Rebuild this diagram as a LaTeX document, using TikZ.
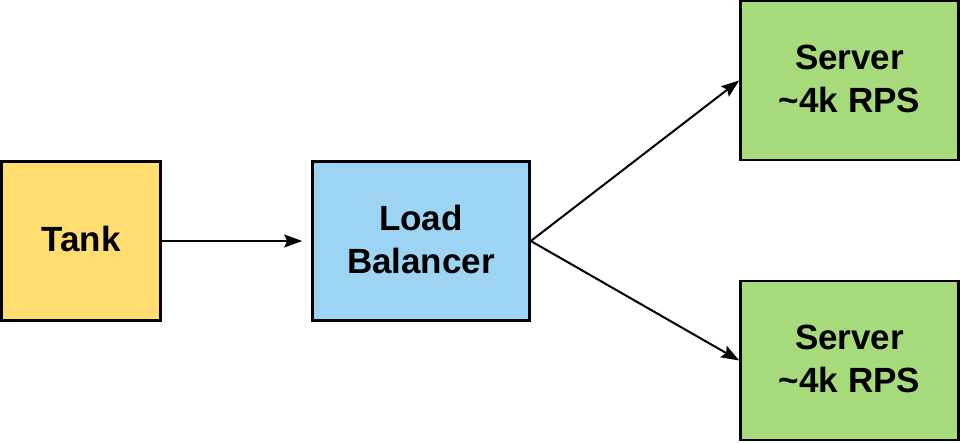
\documentclass[tikz,border=0pt]{standalone}
\usepackage{fontspec}
\setmainfont{Liberation Sans}
\usetikzlibrary{arrows.meta}
\definecolor{tankfill}{HTML}{FFDD71}
\definecolor{lbfill}{HTML}{9DD3F3}
\definecolor{srvfill}{HTML}{A6DA7A}
\begin{document}
\begin{tikzpicture}[x=1pt,y=1pt,
  box/.style={draw=black,line width=2.6pt,minimum height=159pt,inner sep=0pt,
    align=center,font=\fontsize{35}{43}\selectfont\bfseries},
  arr/.style={draw=black,line width=2pt,-{Stealth[length=18pt,width=13pt,inset=3pt]}}]
\useasboundingbox (0,0) rectangle (960,442);
\node[box,fill=tankfill,minimum width=159pt] (tank) at (81,201) {\raisebox{4pt}{Tank}};
\node[box,fill=lbfill,minimum width=217pt] (lb) at (421,201) {\raisebox{4pt}{Load}\\\raisebox{4pt}{Balancer}};
\node[box,fill=srvfill,minimum width=218pt] (s1) at (849.5,361.5) {\raisebox{4pt}{Server}\\\raisebox{4pt}{\textasciitilde4k RPS}};
\node[box,fill=srvfill,minimum width=218pt] (s2) at (849.5,81.5) {\raisebox{4pt}{Server}\\\raisebox{4pt}{\textasciitilde4k RPS}};
\draw[arr,shorten >=9pt] (tank.east) -- (lb.west);
\draw[arr] (lb.east) -- (s1.west);
\draw[arr] (lb.east) -- (s2.west);
\end{tikzpicture}
\end{document}
